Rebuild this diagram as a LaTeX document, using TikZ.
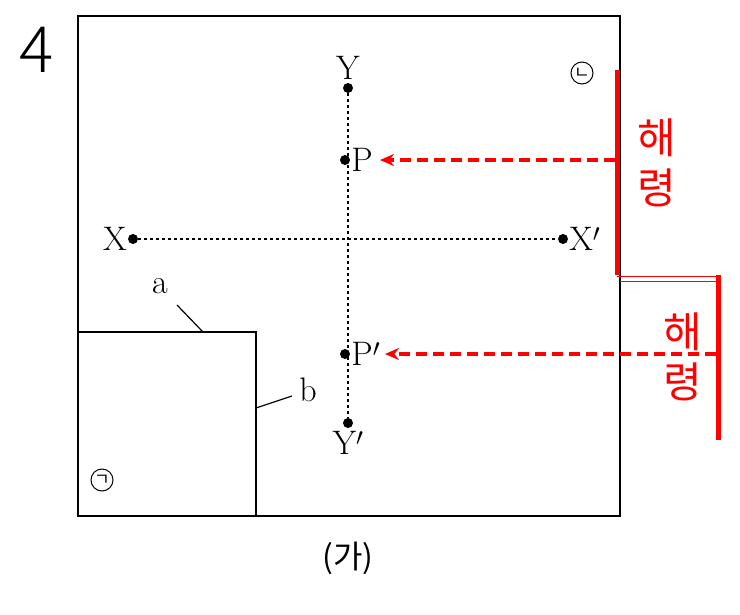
\documentclass[tikz,border=0pt]{standalone}
\usepackage{fontspec}
\newfontfamily\cjk{Noto Sans CJK KR}
\usetikzlibrary{positioning,arrows.meta}
\begin{document}
\begin{tikzpicture}[x=1pt,y=-1pt,
    dot/.style={circle, fill=black, inner sep=0pt, minimum size=10pt},
    lbl/.style={font=\fontsize{34}{36}\selectfont, inner sep=1pt},
    guide/.style={dash pattern=on 3pt off 3pt, line width=1.4pt},
    red arrow/.style={red, dashed, dash pattern=on 11pt off 6pt, line width=3.2pt, -{Stealth[length=14pt,width=12pt]}},
    red bar/.style={red, line width=5pt},
    circ/.style={circle, draw, line width=1pt, inner sep=0.5pt, minimum size=22pt, font=\cjk\fontsize{17}{17}\selectfont},
    hanja/.style={red, font=\cjk\fontsize{42}{50}\selectfont, align=center}
]
\useasboundingbox (0,0) rectangle (740,614);

% Frame and box
\draw[line width=1.5pt] (78,16) rectangle (620,516);
\draw[line width=1.3pt] (78,332) -| (256,516);
\node (num) at (37,50) {\fontspec{Noto Sans CJK KR Light}\fontsize{64}{64}\selectfont 4};
\node[font=\cjk\fontsize{32}{34}\selectfont] (title) at (348,558) {(가)};

% Points
\node[dot] (y) at (348,88) {};
\node[dot] (p) at (345,160) {};
\node[dot] (x) at (133,239) {};
\node[dot] (x2) at (563,239) {};
\node[dot] (p2) at (345,354) {};
\node[dot] (y2) at (348,423) {};
\node[lbl, above=2pt of y] {Y};
\node[lbl, right=0pt of p] {P};
\node[lbl, left=0pt of x] {X};
\node[lbl, right=0pt of x2] {X$'$};
\node[lbl, right=0pt of p2] {P$'$};
\node[lbl, below=2pt of y2] {Y$'$};
\draw[guide] (y) -- (y2);
\draw[guide] (x) -- (x2);

% Labels a and b
\node[lbl] (a) at (160,286) {a};
\node[lbl] (b) at (308,390) {b};
\draw[line width=1.2pt] (177,305) -- (203,332);
\draw[line width=1.2pt] (256,408) -- (292,396);
\node[circ] (c1) at (102,480) {ㄱ};
\node[circ] (c2) at (582,73) {ㄴ};

% Red annotations
\coordinate (t1) at (617,70);
\coordinate (k1) at (617,275);
\coordinate (k2) at (718,275);
\coordinate (t2) at (718,440);
\draw[red bar] (t1) -- (k1);
\draw[red bar] (k2) -- (t2);
\draw[red, line width=1pt] (617,276) -- (718,276);
\draw[red, line width=1pt] (620,281) -- (716,281);
\coordinate (s1) at (615,160);
\coordinate (s2) at (716,354);
\draw[red arrow] (s1) -- (p.east -| 380,0);
\draw[red arrow] (s2) -- (p2.east -| 385,0);
\node[hanja] (h1) at (657,163) {해\\령};
\node[hanja] (h2) at (683,357) {해\\령};
\end{tikzpicture}
\end{document}
